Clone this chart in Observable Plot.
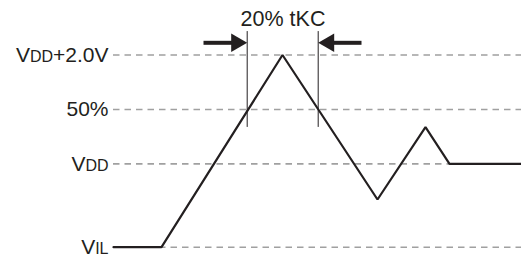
<!DOCTYPE html>
<html>
<head>
<meta charset="utf-8">
<script src="https://cdn.jsdelivr.net/npm/d3@7"></script>
<script src="https://cdn.jsdelivr.net/npm/@observablehq/plot@0.6"></script>
<style>
  html, body { margin: 0; padding: 0; background: #fff; }
</style>
</head>
<body>
<div id="chart"></div>
<script>
// Voltage levels (arbitrary units, VIL = 0)
const levels = [0, 1.53, 2.53, 3.53];
const labelMain = ["V", "V", "50%", "V"];
const labelSub = ["IL", "DD", "", "DD"];
const labelTail = ["", "", "", "+2.0V"];

// Waveform (time units, voltage units)
const waveT = [0, 48, 169, 264, 312, 336, 408];
const waveV = [0, 0, 3.53, 0.876, 2.204, 1.53, 1.53];

// 20% tKC markers: 50% crossings of the waveform
const markerT = [133.7, 204.7];
const markerTop = 3.96;
const markerBottom = 2.2;

// Arrows pointing at the markers
const arrowFrom = [90, 248];
const arrowTo = [133.7, 204.7];
const arrowV = 3.754;

const titleText = "20% tKC";
const titleT = 169.5;
const titleV = 4.07;

const ink = "#231f20";
const grid = "#a0a0a0";

const wave = waveT.map((t, i) => ({t, v: waveV[i]}));
const arrows = arrowFrom.map((f, i) => ({from: f, to: arrowTo[i], dir: arrowTo[i] > f ? 1 : -1}));

const plot = Plot.plot({
  width: 521,
  height: 262,
  marginLeft: 113,
  marginRight: 0,
  marginTop: 54.5,
  marginBottom: 15.3,
  style: {fontFamily: "'Liberation Sans', Arial, sans-serif", fontSize: "21px", color: ink, background: "#fff"},
  x: {domain: [0, 408], axis: null},
  y: {domain: [0, 3.53], axis: null},
  marks: [
    Plot.ruleY(levels, {x1: 0, x2: 408, stroke: grid, strokeWidth: 1.6, strokeDasharray: "6.5,5"}),
    Plot.axisY(levels, {
      label: null,
      tickSize: 0,
      tickPadding: 5,
      fontSize: 21,
      fill: ink,
      tickFormat: (d) => {
        const i = levels.indexOf(d);
        return labelMain[i] + labelSub[i] + labelTail[i];
      }
    }),
    Plot.ruleX(markerT, {y1: markerBottom, y2: markerTop, stroke: ink, strokeWidth: 1}),
    Plot.line(wave, {x: "t", y: "v", stroke: ink, strokeWidth: 2.2, strokeLinejoin: "miter"}),
    Plot.link(arrows, {x1: "from", x2: d => d.to - d.dir * 14, y1: arrowV, y2: arrowV, stroke: ink, strokeWidth: 4}),
    Plot.dot(arrows.filter(d => d.dir > 0), {x: "to", y: arrowV, symbol: "triangle", r: 6.86, fill: ink, stroke: "none", rotate: 90, dx: -10.67}),
    Plot.dot(arrows.filter(d => d.dir < 0), {x: "to", y: arrowV, symbol: "triangle", r: 6.86, fill: ink, stroke: "none", rotate: -90, dx: 10.67}),
    Plot.text([titleText], {x: titleT, y: titleV, text: d => d, fontSize: 21.5, fill: ink, textAnchor: "middle", lineAnchor: "bottom"})
  ]
});

// Render the subscript-style parts of the level labels in a smaller size
plot.querySelectorAll('g[aria-label="y-axis tick label"] text').forEach((node) => {
  const s = node.textContent;
  const i = labelMain.findIndex((m, k) => m + labelSub[k] + labelTail[k] === s);
  if (i < 0) return;
  node.textContent = "";
  const parts = [[labelMain[i], 21], [labelSub[i], 16], [labelTail[i], 21]];
  for (const [txt, size] of parts) {
    if (!txt) continue;
    const ts = document.createElementNS("http://www.w3.org/2000/svg", "tspan");
    ts.setAttribute("font-size", size);
    ts.textContent = txt;
    node.appendChild(ts);
  }
});

document.getElementById("chart").appendChild(plot);
</script>
</body>
</html>
